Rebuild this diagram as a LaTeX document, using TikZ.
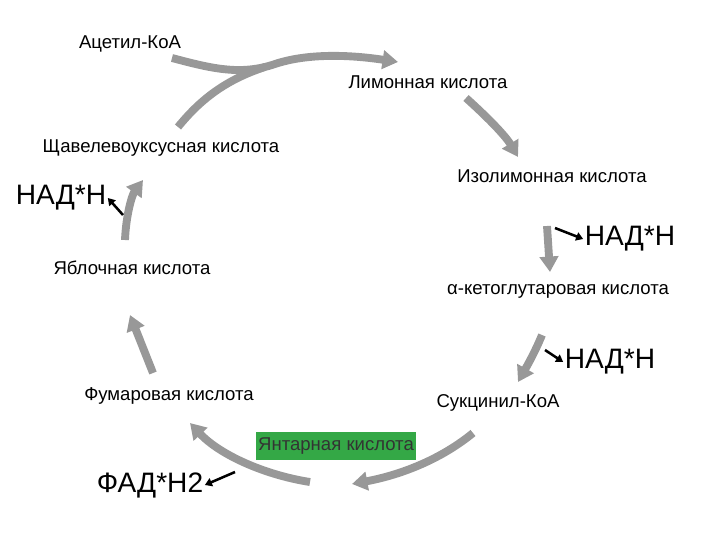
\documentclass[tikz,border=0pt]{standalone}
\usepackage{fontspec}
\setmainfont{Liberation Sans}
\usetikzlibrary{arrows.meta,positioning}
\definecolor{arrowgrey}{RGB}{152,152,152}
\definecolor{boxgreen}{RGB}{52,168,70}

\begin{document}
\begin{tikzpicture}[
    x=0.025cm, y=-0.025cm,
    acid/.style={font=\fontsize{13.2}{15}\selectfont, inner sep=1pt},
    product/.style={font=\fontsize{20}{24}\selectfont, inner sep=1pt},
    turn/.style={draw=arrowgrey, line width=5.6pt,
        -{Triangle[width=13pt, length=11pt]}},
    release/.style={draw=black, line width=1.8pt,
        -{Triangle[width=6pt, length=5pt]}}
]
\useasboundingbox (0,0) rectangle (720,540);

% substances of the cycle
\node[acid] (acetyl) at (130,44) {Ацетил-КоА};
\node[acid] (citrate) at (428,82) {Лимонная кислота};
\node[acid] (isocit) at (552,176) {Изолимонная кислота};
\node[acid] (ketoglu) at (558,291) {α-кетоглутаровая кислота};
\node[acid] (succoa) at (498,403) {Сукцинил-КоА};
\node[acid, fill=boxgreen, text=black!80, minimum width=4cm,
    minimum height=0.7cm] (succin) at (336,446) {Янтарная кислота};
\node[acid] (fumar) at (169,396) {Фумаровая кислота};
\node[acid] (malate) at (132,268) {Яблочная кислота};
\node[acid] (oaa) at (161,148) {Щавелевоуксусная кислота};

% reduced carriers
\node[product] (nadh1) at (630,239) {НАД*Н};
\node[product] (nadh2) at (610,362) {НАД*Н};
\node[product] (fadh) at (150,485) {ФАД*Н2};
\node[product] (nadh3) at (61,198) {НАД*Н};

% arrow ends
\coordinate (acetylout) at (172,58);
\coordinate (oaaout) at (178,127);
\coordinate (merge) at (275,64);
\coordinate (citratein) at (398,62);
\coordinate (citrateout) at (466,98);
\coordinate (isocitin) at (518,157);
\coordinate (isocitout) at (547,226);
\coordinate (ketogluin) at (550,272);
\coordinate (ketogluout) at (542,335);
\coordinate (succoain) at (518,382);
\coordinate (succoaout) at (473,433);
\coordinate (succinin) at (352,484);
\coordinate (succinout) at (310,482);
\coordinate (fumarin) at (190,423);
\coordinate (fumarout) at (153,373);
\coordinate (malatein) at (130,315);
\coordinate (malateout) at (125,240);
\coordinate (oaain) at (143,180);

\draw[turn] (acetylout) .. controls (210,68) and (240,76) .. (merge)
    .. controls (305,54) and (345,54) .. (citratein);
\draw[draw=arrowgrey, line width=5.6pt] (oaaout)
    .. controls (200,100) and (225,80) .. (265,67);
\draw[turn] (citrateout) .. controls (485,115) and (505,135) .. (isocitin);
\draw[turn] (isocitout) -- (ketogluin);
\draw[turn] (ketogluout) .. controls (535,352) and (527,366) .. (succoain);
\draw[turn] (succoaout) .. controls (440,460) and (400,475) .. (succinin);
\draw[turn] (succinout) .. controls (265,475) and (220,455) .. (fumarin);
\draw[turn] (fumarout) -- (malatein);
\draw[turn] (malateout) .. controls (126,215) and (132,195) .. (oaain);

\draw[release] (555,228) -- (nadh1.west);
\draw[release] (545,350) -- (nadh2.west);
\draw[release] (235,472) -- (fadh.east);
\draw[release] (123,215) -- (nadh3.east);
\end{tikzpicture}
\end{document}
